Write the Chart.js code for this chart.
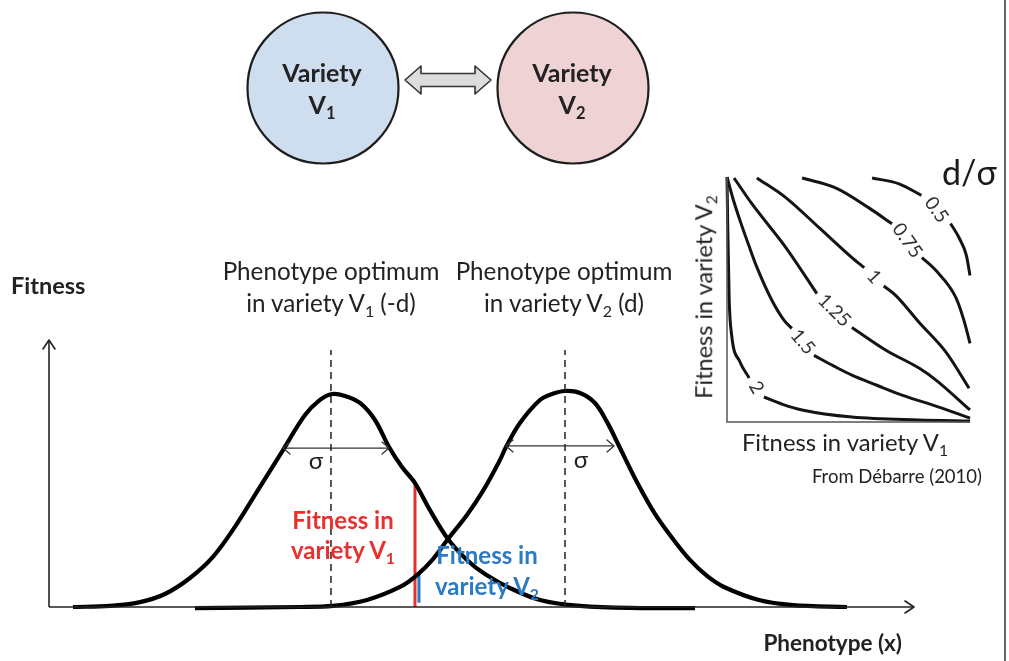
<!DOCTYPE html>
<html><head><meta charset="utf-8">
<script src="https://cdn.jsdelivr.net/npm/chart.js@4.4.1/dist/chart.umd.min.js"></script>
<style>
html,body{margin:0;padding:0;background:#fff;}
#wrap{position:relative;width:1009px;height:661px;overflow:hidden;background:#fff;font-family:Lato,'Open Sans',sans-serif;color:#222;}
canvas{position:absolute;left:0;top:0;}
.t{position:absolute;white-space:nowrap;line-height:1;}
.t sub{font-size:0.66em;vertical-align:-0.3em;line-height:0;}
#border{position:absolute;left:1004px;top:0;width:2px;height:661px;background:#666;}
</style></head>
<body><div id="wrap">
<canvas id="main" width="1009" height="661"></canvas>
<canvas id="inset" width="1009" height="661"></canvas>
<div id="border"></div>
</div>
<script>
// ---------- DATA: main fitness curves (phenotype x, fitness) ----------
const phenotypeV1 = [-3.205,-2.889,-2.632,-2.419,-2.205,-2.009,-1.821,-1.624,-1.410,-1.222,-1.094,-0.991,-0.880,-0.752,-0.624,-0.504,-0.393,-0.282,-0.154,0,0.162,0.316,0.530,0.786,1.128,1.641,2.111];
const fitnessV1   = [0,0.005,0.023,0.061,0.136,0.235,0.376,0.549,0.737,0.901,0.972,1.0,0.991,0.958,0.878,0.751,0.657,0.582,0.455,0.319,0.221,0.155,0.089,0.033,0.005,-0.005,-0.005];
const phenotypeV2 = [-2.162,-1.265,-0.983,-0.692,-0.410,-0.265,-0.128,0,0.162,0.299,0.444,0.496,0.615,0.786,0.889,1.0,1.128,1.256,1.359,1.462,1.624,1.769,1.923,2.068,2.214,2.359,2.658,2.949,3.410];
const fitnessV2   = [-0.005,0,0.005,0.033,0.094,0.150,0.225,0.319,0.432,0.545,0.690,0.751,0.864,0.972,1.0,1.014,1.005,0.958,0.869,0.756,0.577,0.437,0.319,0.221,0.146,0.094,0.033,0.009,0];
const optimumX = [-1, 1];
const optimumLineTop = 1.207;
const sigmaStart = [-1.41, 0.496];
const sigmaEnd   = [-0.504, 1.419];
const sigmaLevel = [0.746, 0.756];
const markerX      = [-0.282, -0.248];
const markerBottom = [0, 0.02];
const markerTop    = [0.582, 0.164];
const markerColors = ['#e8312f', '#2a7bc4'];
const axisXRange = [-3.41, 3.983];
const axisYTop = 1.2535;

// ---------- DATA: inset contours (fitness V1, fitness V2), null = label gap ----------
const contourLabels = ['0.5','0.75','1','1.25','1.5','2'];
const c05X  = [0.597,0.708,0.80,0.864,0.92,0.955,0.985,1.0];
const c05Y  = [0.996,0.972,0.925,null,0.81,0.752,0.68,0.598];
const c075X = [0.309,0.449,0.584,0.679,0.741,0.802,0.86,0.942,0.975,1.0];
const c075Y = [0.996,0.955,0.874,0.809,null,0.671,0.618,0.508,0.415,0.321];
const c1X   = [0.123,0.243,0.379,0.514,0.565,0.605,0.645,0.695,0.790,0.901,0.996];
const c1Y   = [0.996,0.915,0.793,0.671,0.63,null,0.555,0.516,0.407,0.285,0.138];
const c125X = [0.029,0.103,0.243,0.370,0.44,0.514,0.654,0.790,0.860,1.0];
const c125Y = [0.996,0.890,0.711,0.524,null,0.386,0.293,0.220,0.171,0.049];
const c15X  = [0,0.025,0.053,0.09,0.122,0.184,0.235,0.267,0.31,0.358,0.44,0.514,0.617,0.720,0.872,1.0];
const c15Y  = [1,0.91,0.824,0.72,0.634,0.498,0.415,0.382,null,0.272,0.228,0.191,0.150,0.110,0.061,0.016];
const c2X   = [0,0.003,0.006,0.009,0.019,0.053,0.091,0.12,0.152,0.226,0.309,0.514,0.790,1.0];
const c2Y   = [1,0.8,0.65,0.5,0.355,0.246,0.18,null,0.102,0.073,0.049,0.020,0.008,0.004];
const contourLabelX = [0.862,0.742,0.605,0.442,0.312,0.121];
const contourLabelY = [0.866,0.740,0.593,0.455,0.327,0.141];
const contourLabelAngle = [55,55,48,45,50,60];

// ---------- helpers ----------
const pts = (xs, ys) => xs.map((x, i) => ({x, y: ys[i]}));
const seg = (x0, y0, x1, y1) => [{x: x0, y: y0}, {x: x1, y: y1}];
function chev(ctx, tx, ty, dir, len, half) {
  ctx.beginPath();
  if (dir === 'right') { ctx.moveTo(tx - len, ty - half); ctx.lineTo(tx, ty); ctx.lineTo(tx - len, ty + half); }
  if (dir === 'left')  { ctx.moveTo(tx + len, ty - half); ctx.lineTo(tx, ty); ctx.lineTo(tx + len, ty + half); }
  if (dir === 'up')    { ctx.moveTo(tx - half, ty + len); ctx.lineTo(tx, ty); ctx.lineTo(tx + half, ty + len); }
  ctx.stroke();
}
const lineDS = (data, color, width, extra = {}) => Object.assign({
  type: 'line', data, borderColor: color, borderWidth: width, pointRadius: 0,
  fill: false, tension: 0, clip: false, spanGaps: false
}, extra);

// ---------- main chart ----------
const decor = {
  id: 'decor',
  afterDraw(chart) {
    const {ctx, scales: {x, y}} = chart;
    ctx.save();
    ctx.lineCap = 'round'; ctx.lineJoin = 'round';
    ctx.strokeStyle = '#222'; ctx.lineWidth = 1.6;
    chev(ctx, x.getPixelForValue(axisXRange[1]), y.getPixelForValue(0), 'right', 9, 6);
    chev(ctx, x.getPixelForValue(axisXRange[0]), y.getPixelForValue(axisYTop), 'up', 9, 6);
    ctx.strokeStyle = '#333'; ctx.lineWidth = 1.3;
    sigmaStart.forEach((s, i) => {
      const py = y.getPixelForValue(sigmaLevel[i]);
      chev(ctx, x.getPixelForValue(s), py, 'left', 7, 6);
      chev(ctx, x.getPixelForValue(sigmaEnd[i]), py, 'right', 7, 6);
    });
    // top diagram: two varieties and exchange arrow
    const circles = [[323, 88, '#cfdeee'], [573, 88, '#efd3d4']];
    circles.forEach(([cx, cy, fillc]) => {
      ctx.beginPath(); ctx.arc(cx, cy, 75.5, 0, Math.PI * 2);
      ctx.fillStyle = fillc; ctx.fill();
      ctx.lineWidth = 2.2; ctx.strokeStyle = '#1e1e1e'; ctx.stroke();
    });
    const x1 = 405, x2 = 491, cy = 80, hl = 16, hh = 14, sh = 6.5;
    ctx.beginPath();
    ctx.moveTo(x1, cy); ctx.lineTo(x1 + hl, cy - hh); ctx.lineTo(x1 + hl, cy - sh);
    ctx.lineTo(x2 - hl, cy - sh); ctx.lineTo(x2 - hl, cy - hh); ctx.lineTo(x2, cy);
    ctx.lineTo(x2 - hl, cy + hh); ctx.lineTo(x2 - hl, cy + sh); ctx.lineTo(x1 + hl, cy + sh);
    ctx.lineTo(x1 + hl, cy + hh); ctx.closePath();
    ctx.fillStyle = '#dcdcdc'; ctx.fill();
    ctx.lineWidth = 1.6; ctx.strokeStyle = '#333'; ctx.stroke();
    ctx.restore();
  }
};

const mainDatasets = [
  lineDS(seg(axisXRange[0], 0, axisXRange[1], 0), '#222', 1.6),
  lineDS(seg(axisXRange[0], 0, axisXRange[0], axisYTop), '#222', 1.6),
  ...optimumX.map(o => lineDS(seg(o, 0, o, optimumLineTop), '#222', 1.5, {borderDash: [7, 5]})),
  lineDS(pts(phenotypeV1, fitnessV1), '#000', 4.2, {tension: 0.35}),
  lineDS(pts(phenotypeV2, fitnessV2), '#000', 4.2, {tension: 0.35}),
  ...sigmaStart.map((s, i) => lineDS(seg(s, sigmaLevel[i], sigmaEnd[i], sigmaLevel[i]), '#333', 1.3)),
  ...markerX.map((m, i) => lineDS(seg(m, markerBottom[i], m, markerTop[i]), markerColors[i], 3))
];

new Chart(document.getElementById('main'), {
  type: 'line',
  data: {datasets: mainDatasets},
  options: {
    responsive: false, animation: false, events: [],
    layout: {padding: {left: 49, right: 1009 - 914, top: 340, bottom: 661 - 607}},
    scales: {
      x: {type: 'linear', min: axisXRange[0], max: axisXRange[1], display: false},
      y: {type: 'linear', min: 0, max: axisYTop, display: false}
    },
    plugins: {legend: {display: false}, tooltip: {enabled: false}}
  },
  plugins: [decor]
});

// ---------- inset chart ----------
const contourSets = [[c05X, c05Y], [c075X, c075Y], [c1X, c1Y], [c125X, c125Y], [c15X, c15Y], [c2X, c2Y]];
const insetLabels = {
  id: 'insetLabels',
  afterDatasetsDraw(chart) {
    const {ctx, scales: {x, y}} = chart;
    ctx.save();
    ctx.fillStyle = '#333';
    ctx.font = '19px Lato, "Open Sans", sans-serif';
    ctx.textAlign = 'center'; ctx.textBaseline = 'middle';
    contourLabels.forEach((t, i) => {
      ctx.save();
      ctx.translate(x.getPixelForValue(contourLabelX[i]), y.getPixelForValue(contourLabelY[i]));
      ctx.rotate(contourLabelAngle[i] * Math.PI / 180);
      ctx.fillText(t, 0, 0);
      ctx.restore();
    });
    ctx.restore();
  }
};
new Chart(document.getElementById('inset'), {
  type: 'line',
  data: {datasets: [
    lineDS([{x: 0, y: 1}, {x: 0, y: 0}, {x: 1, y: 0}], '#555', 1.5),
    ...contourSets.map(([xs, ys]) => lineDS(pts(xs, ys), '#141414', 3, {cubicInterpolationMode: 'monotone'}))
  ]},
  options: {
    responsive: false, animation: false, events: [],
    layout: {padding: {left: 727, right: 1009 - 970, top: 177, bottom: 661 - 422}},
    scales: {
      x: {type: 'linear', min: 0, max: 1, display: false},
      y: {type: 'linear', min: 0, max: 1, display: false}
    },
    plugins: {legend: {display: false}, tooltip: {enabled: false}}
  },
  plugins: [insetLabels]
});

// ---------- text ----------
const wrap = document.getElementById('wrap');
function addText(html, x, base, size, o = {}) {
  const d = document.createElement('div');
  d.className = 't';
  d.innerHTML = html;
  d.style.fontSize = size + 'px';
  d.style.fontWeight = o.bold ? '700' : '400';
  d.style.color = o.color || '#222';
  if (o.rotate) {
    d.style.left = x + 'px'; d.style.top = base + 'px';
    d.style.transform = 'translate(-50%,-50%) rotate(-90deg)';
  } else {
    d.style.top = (base - 0.887 * size) + 'px';
    const a = o.align || 'center';
    if (a === 'center') { d.style.left = x + 'px'; d.style.transform = 'translateX(-50%)'; }
    else if (a === 'left') d.style.left = x + 'px';
    else d.style.right = (1009 - x) + 'px';
  }
  wrap.appendChild(d);
}
addText('Variety', 322, 82, 25, {bold: true});
addText('V<sub>1</sub>', 322, 114, 25, {bold: true});
addText('Variety', 572, 82, 25, {bold: true});
addText('V<sub>2</sub>', 572, 114, 25, {bold: true});
addText('Fitness', 11, 295, 23.5, {bold: true, align: 'left'});
addText('Phenotype optimum', 331, 280, 24.2);
addText('in variety V<sub>1</sub> (-d)', 331, 312, 24.2);
addText('Phenotype optimum', 564, 280, 24.2);
addText('in variety V<sub>2</sub> (d)', 564, 312, 24.2);
addText('σ', 316, 469, 24);
addText('σ', 581, 468, 24);
addText('Fitness in', 343, 529, 24, {bold: true, color: '#e8312f'});
addText('variety V<sub>1</sub>', 343, 559, 24, {bold: true, color: '#e8312f'});
addText('Fitness in', 487, 564, 24, {bold: true, color: '#2a7bc4'});
addText('variety V<sub>2</sub>', 487, 595, 24, {bold: true, color: '#2a7bc4'});
addText('Phenotype (x)', 902, 652, 22.5, {bold: true, align: 'right'});
addText('d/σ', 942, 185, 34, {align: 'left', color: '#1a1a1a'});
addText('Fitness in variety V<sub>1</sub>', 845, 452, 23.8);
addText('From Débarre (2010)', 982, 483, 18.5, {align: 'right'});
addText('Fitness in variety V<sub>2</sub>', 704, 297, 23.5, {rotate: true});
</script>
</body></html>
